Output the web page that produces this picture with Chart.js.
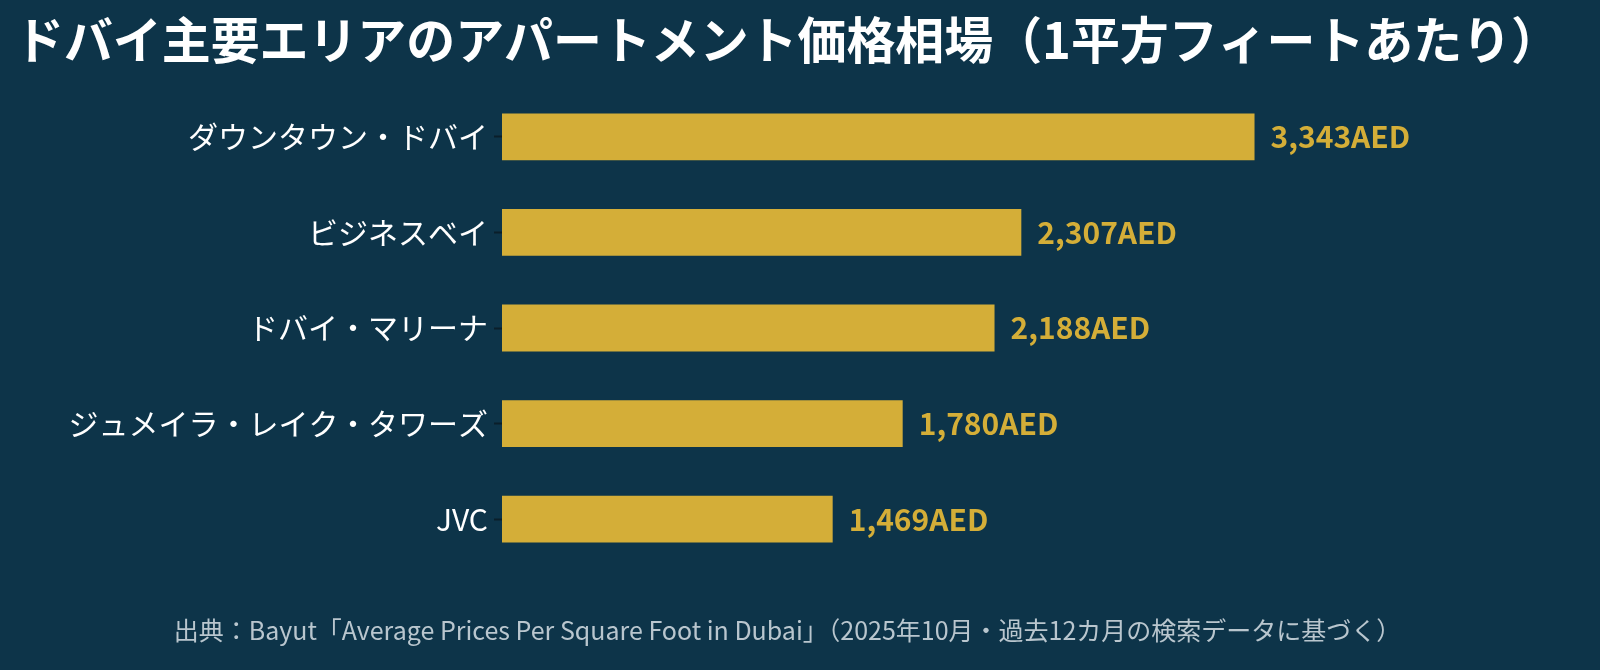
<!DOCTYPE html>
<html>
<head>
<meta charset="utf-8">
<script src="https://cdn.jsdelivr.net/npm/chart.js@4/dist/chart.umd.min.js"></script>
<style>
  html, body { margin: 0; padding: 0; background: #0d3449; overflow: hidden; }
  #wrap { width: 1600px; height: 670px; }
</style>
</head>
<body>
<div id="wrap"><canvas id="chart"></canvas></div>
<script>
const areas = ["ダウンタウン・ドバイ", "ビジネスベイ", "ドバイ・マリーナ", "ジュメイラ・レイク・タワーズ", "JVC"];
const pricePerSqft = [3343, 2307, 2188, 1780, 1469];
const titleText = "ドバイ主要エリアのアパートメント価格相場（1平方フィートあたり）";
const sourceText = "出典：Bayut「Average Prices Per Square Foot in Dubai」（2025年10月・過去12カ月の検索データに基づく）";

const FONT = "'Noto Sans CJK JP', 'Noto Sans', sans-serif";
const GOLD = "#d4ae38";

// value labels at the end of each bar
const valueLabels = {
    id: "valueLabels",
    afterDatasetsDraw(chart) {
        const ctx = chart.ctx;
        const meta = chart.getDatasetMeta(0);
        ctx.save();
        ctx.font = "bold 30px " + FONT;
        ctx.fillStyle = GOLD;
        ctx.textBaseline = "middle";
        meta.data.forEach((bar, i) => {
            ctx.fillText(pricePerSqft[i].toLocaleString("en-US") + "AED", bar.x + 16, bar.y);
        });
        ctx.restore();
    }
};

new Chart(document.getElementById("chart"), {
    type: "bar",
    data: {
        labels: areas,
        datasets: [{
            data: pricePerSqft,
            backgroundColor: GOLD,
            barPercentage: 0.49,
            categoryPercentage: 1
        }]
    },
    options: {
        indexAxis: "y",
        responsive: true,
        maintainAspectRatio: false,
        animation: false,
        layout: { padding: { top: 10, right: 40, left: 15, bottom: 0 } },
        plugins: {
            legend: { display: false },
            tooltip: { enabled: false },
            title: {
                display: true,
                text: titleText,
                align: "start",
                color: "#ffffff",
                font: { family: FONT, size: 50, weight: "bold" },
                padding: { top: 0, bottom: 19 }
            },
            subtitle: {
                display: true,
                position: "bottom",
                text: sourceText,
                color: "#b9c6ce",
                font: { family: FONT, size: 25 },
                padding: { top: 48, bottom: 25 }
            }
        },
        scales: {
            x: { display: false, min: 0, max: 4700 },
            y: {
                afterFit(scale) { scale.width = 487; },
                border: { display: false },
                grid: { offset: false, drawOnChartArea: false, tickLength: 8, color: "#0a1e2a", tickWidth: 2 },
                ticks: { color: "#ffffff", font: { family: FONT, size: 30 }, padding: 6 }
            }
        }
    },
    plugins: [valueLabels]
});
</script>
</body>
</html>
